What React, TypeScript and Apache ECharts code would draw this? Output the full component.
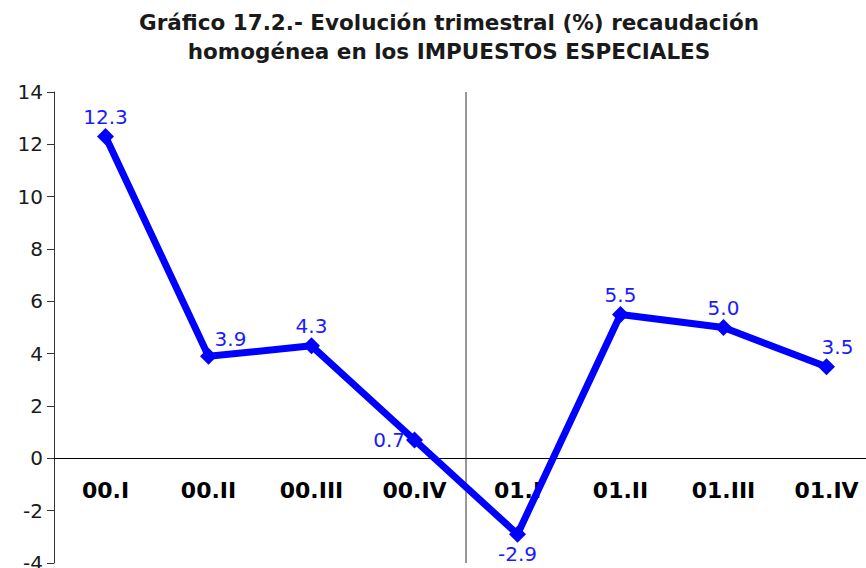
import React, { useEffect, useRef } from "react";
import * as echarts from "echarts";

const titleLines = [
  "Gráfico 17.2.- Evolución trimestral (%) recaudación",
  "homogénea en los IMPUESTOS ESPECIALES",
];
const categories = ["00.I", "00.II", "00.III", "00.IV", "01.I", "01.II", "01.III", "01.IV"];
const values = [12.3, 3.9, 4.3, 0.7, -2.9, 5.5, 5.0, 3.5];
const yMin = -4;
const yMax = 14;
const yStep = 2;
// divider between 2000 and 2001 quarters (boundary after the 4th category)
const dividerPosition = 4;

const labelPlacement: Record<number, { position: string; offset?: number[] }> = {
  1: { position: "top", offset: [22, 2] },
  3: { position: "left" },
  4: { position: "bottom" },
  7: { position: "top", offset: [11, 0] },
};

const GRID_TOP = 92;
const GRID_HEIGHT = 471;

export default function App() {
  const ref = useRef<HTMLDivElement>(null);
  useEffect(() => {
    if (!ref.current) return;
    const chart = echarts.init(ref.current, undefined, { renderer: "svg" });
    const font = "'DejaVu Sans', Verdana, sans-serif";
    const zeroOffset = -GRID_HEIGHT * ((0 - yMin) / (yMax - yMin));
    chart.setOption({
      animation: false,
      backgroundColor: "#ffffff",
      title: {
        text: titleLines.join("\n"),
        left: 444,
        textAlign: "center",
        top: 3,
        textStyle: {
          fontFamily: font,
          fontWeight: "bold",
          fontSize: 21.5,
          lineHeight: 29,
          color: "#1a1a1a",
        },
      },
      grid: {
        left: 54,
        top: GRID_TOP,
        width: 824,
        height: GRID_HEIGHT,
        containLabel: false,
        outerBoundsMode: "none",
      },
      xAxis: [
        {
          type: "category",
          data: categories,
          offset: zeroOffset,
          axisLine: { onZero: false, lineStyle: { color: "#000", width: 1 } },
          axisTick: { show: false },
          axisLabel: {
            fontFamily: font,
            fontWeight: "bold",
            fontSize: 22,
            color: "#000",
            margin: 21,
          },
          splitLine: { show: false },
        },
        {
          type: "value",
          min: 0,
          max: categories.length,
          show: false,
        },
      ],
      yAxis: {
        type: "value",
        min: yMin,
        max: yMax,
        interval: yStep,
        axisLine: { show: true, onZero: false, lineStyle: { color: "#333", width: 1 } },
        axisTick: { show: true, inside: false, length: 7, lineStyle: { color: "#333" } },
        axisLabel: { fontFamily: font, fontSize: 20, color: "#1a1a1a", margin: 11 },
        splitLine: { show: false },
      },
      series: [
        {
          type: "line",
          xAxisIndex: 1,
          data: [
            [dividerPosition, yMin],
            [dividerPosition, yMax],
          ],
          symbol: "none",
          silent: true,
          clip: false,
          lineStyle: { color: "#333", width: 1 },
          label: { show: false },
          z: 1,
        },
        {
          type: "line",
          xAxisIndex: 0,
          data: values.map((v, i) => {
            const p = labelPlacement[i];
            return p ? { value: v, label: { position: p.position, offset: p.offset || [0, 0] } } : v;
          }),
          symbol: "diamond",
          symbolSize: 17,
          lineStyle: { color: "#0000ff", width: 7 },
          itemStyle: { color: "#0000ff" },
          label: {
            show: true,
            position: "top",
            distance: 1,
            fontFamily: font,
            fontSize: 20,
            color: "#1a1aff",
            formatter: (p: any) => Number(p.value).toFixed(1),
          },
          z: 3,
        },
      ],
    });
    return () => chart.dispose();
  }, []);
  return (
    <div
      ref={ref}
      style={{ position: "fixed", left: 0, top: 0, width: 866, height: 568, background: "#fff" }}
    />
  );
}
